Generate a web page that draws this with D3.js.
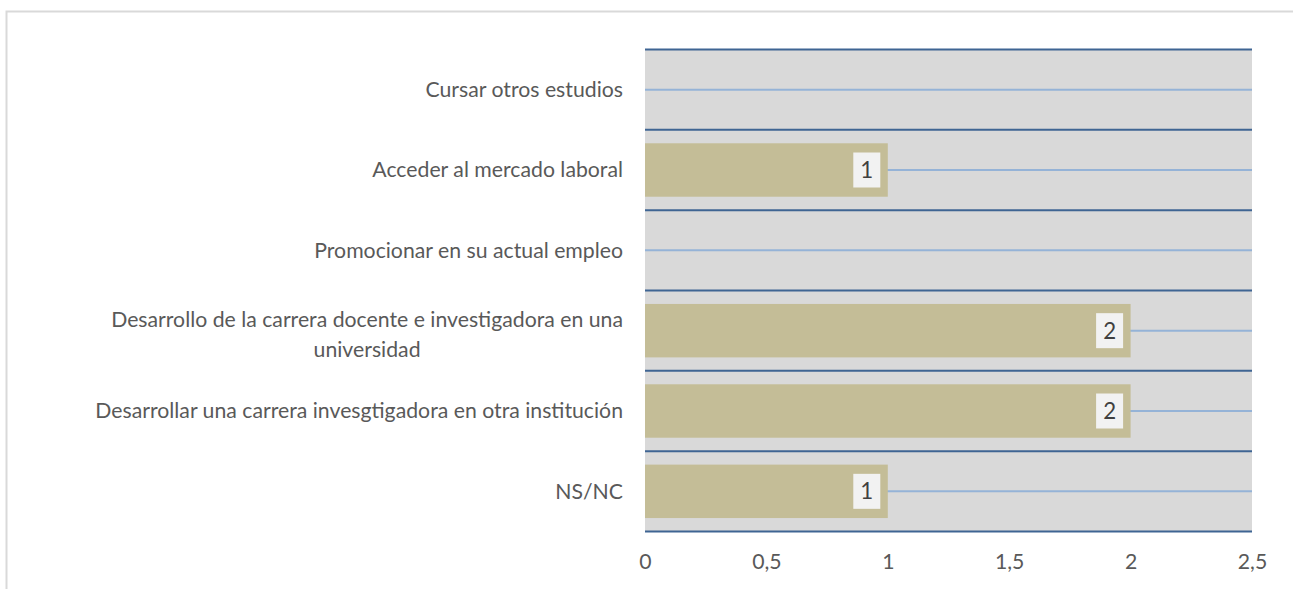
<!DOCTYPE html>
<html><head><meta charset="utf-8">
<script src="https://cdn.jsdelivr.net/npm/d3@7"></script>
<style>html,body{margin:0;padding:0;background:#fff;overflow:hidden}</style>
</head><body>
<svg id="chart" width="1293" height="589"></svg>
<script>
const categories = [
  "Cursar otros estudios",
  "Acceder al mercado laboral",
  "Promocionar en su actual empleo",
  "Desarrollo de la carrera docente e investigadora en una universidad",
  "Desarrollar una carrera invesgtigadora en otra institución",
  "NS/NC"
];
const values = [0, 1, 0, 2, 2, 1];
const xTicks = [0, 0.5, 1, 1.5, 2, 2.5];

const svg = d3.select("#chart");
const FONT = "Lato, 'Open Sans', sans-serif";
const textColor = "#595959";

// calibrate font size so the longest single-line label is ~528px wide
const probe = svg.append("text").attr("font-family", FONT).attr("font-size", 20)
  .text(categories[4]);
const fs = 20 * 528 / probe.node().getComputedTextLength();
probe.remove();

svg.append("rect").attr("x", 6.5).attr("y", 11.5).attr("width", 1300).attr("height", 600)
  .attr("fill", "#fff").attr("stroke", "#d9d9d9").attr("stroke-width", 2);

const x = d3.scaleLinear().domain([0, 2.5]).range([645, 1252]);
const y = d3.scaleBand().domain(categories).range([49.5, 531.5]).paddingInner(0.335).paddingOuter(0.1675);

svg.append("rect").attr("x", x(0)).attr("y", y.range()[0]).attr("width", x(2.5) - x(0))
  .attr("height", y.range()[1] - y.range()[0]).attr("fill", "#d9d9d9");

const step = y.step();
// light lines at band centres
svg.append("g").selectAll("line").data(categories).join("line")
  .attr("x1", x(0)).attr("x2", x(2.5))
  .attr("y1", d => y(d) + y.bandwidth() / 2).attr("y2", d => y(d) + y.bandwidth() / 2)
  .attr("stroke", "#95b3d7").attr("stroke-width", 2);

// bars
svg.append("g").selectAll("rect").data(categories).join("rect")
  .attr("x", x(0)).attr("y", d => y(d))
  .attr("width", (d, i) => x(values[i]) - x(0)).attr("height", y.bandwidth())
  .attr("fill", "#c4bd97");

// dark boundary lines
const bounds = d3.range(categories.length + 1).map(i => y.range()[0] + i * step);
svg.append("g").selectAll("line").data(bounds).join("line")
  .attr("x1", x(0)).attr("x2", x(2.5)).attr("y1", d => d).attr("y2", d => d)
  .attr("stroke", "#3f6593").attr("stroke-width", 2);

// data labels
const lab = svg.append("g").selectAll("g").data(categories.map((c, i) => ({c, v: values[i]})).filter(d => d.v > 0))
  .join("g");
lab.append("rect")
  .attr("x", d => x(d.v) - 7.5 - 27).attr("y", d => y(d.c) + y.bandwidth() / 2 - 17.5)
  .attr("width", 27).attr("height", 35).attr("fill", "#f2f2f2");
lab.append("text")
  .attr("x", d => x(d.v) - 7.5 - 13.5).attr("y", d => y(d.c) + y.bandwidth() / 2)
  .attr("dy", "0.36em").attr("text-anchor", "middle")
  .attr("font-family", FONT).attr("font-size", fs * 1.05).attr("fill", "#404040")
  .text(d => d.v);

// category labels with wrapping
const maxW = 540;
const measure = svg.append("text").attr("font-family", FONT).attr("font-size", fs);
function wrap(s) {
  const words = s.split(" ");
  const lines = [];
  let cur = "";
  for (const w of words) {
    const t = cur ? cur + " " + w : w;
    measure.text(t);
    if (measure.node().getComputedTextLength() > maxW && cur) { lines.push(cur); cur = w; }
    else cur = t;
  }
  lines.push(cur);
  return lines;
}
const labelRight = 623;
categories.forEach(c => {
  const lines = wrap(c);
  const widths = lines.map(l => { measure.text(l); return measure.node().getComputedTextLength(); });
  const blockW = d3.max(widths);
  const cx = labelRight - blockW / 2;
  const lh = fs * 1.4;
  const cy = y(c) + y.bandwidth() / 2 + (lines.length > 1 ? 4 : 0);
  const t = svg.append("text").attr("font-family", FONT).attr("font-size", fs).attr("fill", textColor)
    .attr("text-anchor", "middle");
  lines.forEach((l, i) => {
    t.append("tspan").attr("x", cx).attr("y", cy + (i - (lines.length - 1) / 2) * lh).attr("dy", "0.35em").text(l);
  });
});
measure.remove();

// x axis
const fmt = d => String(d).replace(".", ",");
const ax = svg.append("g").attr("transform", "translate(0,550)")
  .call(d3.axisBottom(x).tickValues(xTicks).tickFormat(fmt).tickSize(0).tickPadding(0));
ax.select(".domain").remove();
ax.selectAll("text").attr("font-family", FONT).attr("font-size", fs).attr("fill", textColor)
  .attr("dy", "0.35em").attr("y", 12);
</script>
</body></html>
